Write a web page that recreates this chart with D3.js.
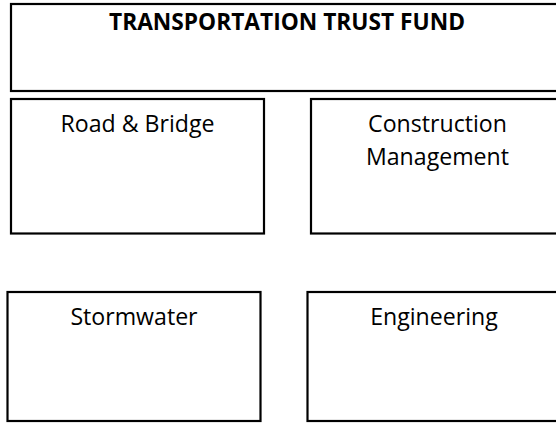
<!DOCTYPE html>
<html lang="en">
<head>
<meta charset="UTF-8" />
<title>Transportation Trust Fund</title>
<script src="https://d3js.org/d3.v7.min.js"></script>
<style>
  body { margin: 0; background: #fff; }
  svg { display: block; }
  .box { fill: #fff; stroke: #000; stroke-width: 2.2px; }
  .label { font-family: "Open Sans", sans-serif; fill: #000; text-anchor: middle; }
  .title { font-weight: bold; }
</style>
</head>
<body>
<svg width="556" height="424"></svg>
<script>
// labels
const title = "TRANSPORTATION TRUST FUND";
const units = [
  ["Road & Bridge"],
  ["Construction", "Management"],
  ["Stormwater"],
  ["Engineering"]
];
const unitRow = [0, 0, 1, 1];
const unitCol = [0, 1, 0, 1];

// layout
const rowTop = [99, 292];
const rowBottom = [233.5, 421];
const colLeft = [[11, 311], [7.5, 307.5]];
const boxW = 253;
const topBox = {x: 11, y: 4, w: 552, h: 87};

const svg = d3.select("svg");

svg.append("rect").attr("class", "box")
  .attr("x", topBox.x).attr("y", topBox.y)
  .attr("width", topBox.w).attr("height", topBox.h);

const t = svg.append("text").attr("class", "label title")
  .attr("x", topBox.x + topBox.w / 2).attr("y", 29.5)
  .style("font-size", "20px")
  .text(title);
// fit title to reference width
const tw = t.node().getComputedTextLength();
t.style("font-size", (20 * 356 / tw) + "px");

// regular font size fitted on "Road & Bridge"
const probe = svg.append("text").attr("class", "label")
  .style("font-size", "20px").text(units[0][0]);
const regSize = 20 * 154 / probe.node().getComputedTextLength();
probe.remove();

const node = svg.selectAll(".unit")
  .data(units)
  .join("g")
  .attr("class", "unit")
  .attr("transform", (d, i) => `translate(${colLeft[unitRow[i]][unitCol[i]]},${rowTop[unitRow[i]]})`);

node.append("rect").attr("class", "box")
  .attr("width", boxW)
  .attr("height", (d, i) => rowBottom[unitRow[i]] - rowTop[unitRow[i]]);

node.append("text").attr("class", "label")
  .style("font-size", regSize + "px")
  .selectAll("tspan")
  .data(d => d)
  .join("tspan")
  .attr("x", boxW / 2)
  .attr("y", (d, i) => 33 + i * 33)
  .text(d => d);
</script>
</body>
</html>
